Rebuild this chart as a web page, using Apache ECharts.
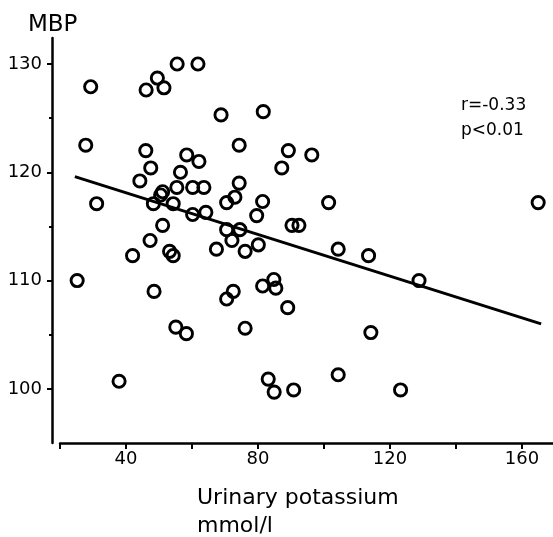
<!DOCTYPE html>
<html>
<head>
<meta charset="utf-8">
<script src="https://cdn.jsdelivr.net/npm/echarts@6/dist/echarts.min.js"></script>
<style>
html,body{margin:0;padding:0;background:#fff;}
#chart{width:553px;height:537px;}
</style>
</head>
<body>
<div id="chart"></div>
<script>
// Urinary potassium (mmol/l)
const potassium = [55.5,61.8,29.3,49.5,46.1,51.5,68.8,81.6,27.8,46.0,
  58.4,62.1,74.3,89.2,96.3,87.2,47.5,56.5,44.2,74.3,
  31.1,55.4,60.2,63.6,51.1,50.5,48.3,54.3,70.5,73.0,
  81.4,101.4,164.9,60.2,64.2,79.6,51.1,90.3,92.4,70.5,
  74.5,72.1,47.3,80.1,67.4,76.1,104.3,113.5,42.0,53.2,
  54.3,25.2,128.8,48.5,81.4,84.8,85.4,72.5,70.5,89.0,
  55.1,58.3,76.1,114.2,37.9,83.1,84.9,90.8,104.3,123.2];
// Mean blood pressure
const mbp = [130.0,130.0,127.9,128.7,127.6,127.8,125.3,125.6,122.5,122.0,
  121.6,121.0,122.5,122.0,121.6,120.4,120.4,120.0,119.2,119.0,
  117.1,118.6,118.6,118.6,118.2,117.9,117.1,117.1,117.2,117.7,
  117.3,117.2,117.2,116.1,116.3,116.0,115.1,115.1,115.1,114.7,
  114.7,113.7,113.7,113.3,112.9,112.7,112.9,112.3,112.3,112.7,
  112.3,110.0,110.0,109.0,109.5,110.1,109.3,109.0,108.3,107.5,
  105.7,105.1,105.6,105.2,100.7,100.9,99.7,99.9,101.3,99.9];
// Regression line end points
const fitX = [24.5, 165.8];
const fitY = [119.6, 106.0];
// Ticks and labels
const xTicks = [20,40,60,80,100,120,140,160];
const xLabels = [40,80,120,160];
const yMajorTicks = [100,110,120,130];
const yMinorTicks = [105,115,125];
const yLabels = [100,110,120,130];

const FONT = 'DejaVu Sans';
const chart = echarts.init(document.getElementById('chart'), null, {renderer:'canvas'});
const pts = potassium.map((x,i)=>[x, mbp[i]]);
const fit = fitX.map((x,i)=>[x, fitY[i]]);

chart.setOption({
  animation:false,
  backgroundColor:'#ffffff',
  grid:{left:60, top:38, width:495, height:405, containLabel:false, outerBoundsMode:'none'},
  xAxis:{
    type:'value', min:20, max:170,
    axisLine:{show:true, lineStyle:{color:'#000', width:2.5}},
    axisTick:{show:true, length:6, lineStyle:{color:'#000', width:2}, customValues:xTicks},
    axisLabel:{customValues:xLabels, color:'#000', fontSize:18, fontFamily:FONT, margin:7},
    splitLine:{show:false}
  },
  yAxis:[{
    type:'value', min:95, max:132.4, position:'left', offset:8,
    axisLine:{show:true, lineStyle:{color:'#000', width:2.5}},
    axisTick:{show:true, length:5, lineStyle:{color:'#000', width:2}, customValues:yMajorTicks},
    axisLabel:{customValues:yLabels, color:'#000', fontSize:18, fontFamily:FONT, margin:10},
    splitLine:{show:false}
  },{
    type:'value', min:95, max:132.4, position:'left', offset:8,
    axisLine:{show:false},
    axisTick:{show:true, length:3, lineStyle:{color:'#000', width:2}, customValues:yMinorTicks},
    axisLabel:{show:false},
    splitLine:{show:false}
  }],
  series:[{
    type:'scatter', data:pts, symbol:'circle', symbolSize:12.2,
    itemStyle:{color:'rgba(0,0,0,0)', borderColor:'#000', borderWidth:2.9, opacity:1}
  },{
    type:'line', data:fit, symbol:'none', lineStyle:{color:'#000', width:3}, z:1
  }],
  graphic:[
    {type:'text', x:28, y:25, style:{text:'MBP', fill:'#000', font:'23px "DejaVu Sans"', verticalAlign:'middle'}},
    {type:'text', x:197, y:498, style:{text:'Urinary potassium', fill:'#000', font:'22px "DejaVu Sans"', verticalAlign:'middle'}},
    {type:'text', x:197, y:526, style:{text:'mmol/l', fill:'#000', font:'22px "DejaVu Sans"', verticalAlign:'middle'}},
    {type:'text', x:461, y:105.5, style:{text:'r=-0.33', fill:'#000', font:'17px "DejaVu Sans"', verticalAlign:'middle'}},
    {type:'text', x:461, y:131, style:{text:'p<0.01', fill:'#000', font:'17px "DejaVu Sans"', verticalAlign:'middle'}}
  ]
});
</script>
</body>
</html>
